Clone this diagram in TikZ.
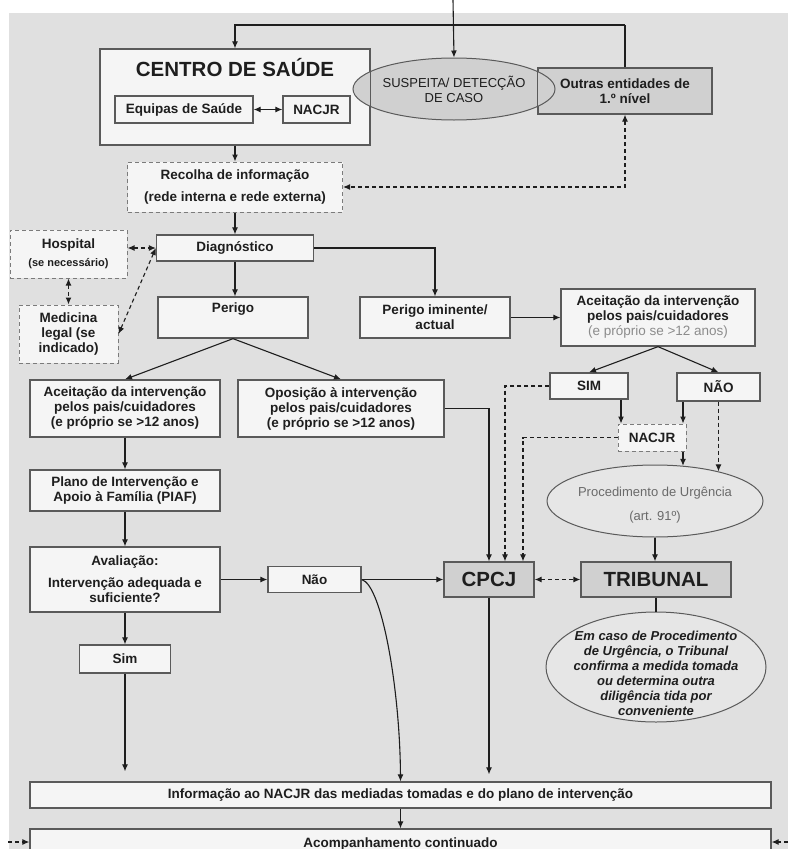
\documentclass[tikz,border=0pt]{standalone}
\usepackage{fontspec}
\setmainfont{Liberation Sans}
\usetikzlibrary{arrows.meta,shapes.geometric}

\definecolor{bggrey}{HTML}{E0E0E0}
\definecolor{boxfill}{HTML}{F5F5F5}
\definecolor{darkfill}{HTML}{D0D0D0}
\definecolor{ovalfill}{HTML}{E6E6E6}
\definecolor{edge}{HTML}{5A5A5A}
\definecolor{ink}{HTML}{1E1E1E}
\definecolor{softink}{HTML}{8C8C8C}
\definecolor{procink}{HTML}{6A6A6A}

\tikzset{
    >={Latex[length=7pt,width=6pt]},
    plainbox/.style={draw=edge, line width=1.3pt, fill=boxfill, inner sep=0pt, align=center,
        text=ink, font=\bfseries\fontsize{13.5}{15}\selectfont},
    dashbox/.style={plainbox, draw=edge!80, line width=1pt, dash pattern=on 4pt off 3pt},
    greybox/.style={plainbox, fill=darkfill},
    oval/.style={ellipse, draw=edge, line width=1pt, inner sep=0pt},
    ovaltxt/.style={align=center, inner sep=0pt, text=ink},
    bigtxt/.style={font=\bfseries\fontsize{20.5}{22}\selectfont},
    rebord/.style={draw=edge, line width=1.3pt},
    conn/.style={draw=ink, line width=1.1pt},
    dconn/.style={conn, dash pattern=on 4pt off 3pt}
}

\begin{document}
\begin{tikzpicture}[x=1pt,y=-1pt]
            \clip (0,0) rectangle (788,849);
            \fill[bggrey] (9,13) rectangle (788,849);

            %%centro de saude
            \node[plainbox, minimum width=270pt, minimum height=96pt] (centro) at (235,97) {};
                \node[bigtxt, text=ink] (centrotit) at (235,68) {CENTRO DE SAÚDE};
                \node[plainbox, minimum width=138pt, minimum height=27pt] (equipas) at (184,109.5) {Equipas de Saúde};
                \node[plainbox, minimum width=67pt, minimum height=27pt] (nacjra) at (316.5,109.5) {NACJR};
            \draw[conn, <->] (equipas) -- (nacjra);

            \node[greybox, minimum width=174pt, minimum height=46pt] (outras) at (625,91) {Outras entidades de\\1.º nível};
            \node[oval, fill=darkfill, minimum width=202pt, minimum height=62pt] (susp) at (454,89) {};
                \node[ovaltxt, font=\fontsize{13}{15}\selectfont] (susptxt) at (susp) {SUSPEITA/ DETECÇÃO\\DE CASO};
            \draw[rebord] (outras.south west) rectangle (outras.north east);
            \draw[rebord] (centro.south west) rectangle (centro.north east);

            %%entrada
            \coordinate (entrada) at (453,0);
            \coordinate (topo) at (625,25);
            \draw[conn, ->] (entrada) -- (susp.north);
            \draw[conn] (outras.north) -- (topo);
            \draw[conn, ->] (topo) -| (centro.north);

            \node[dashbox, minimum width=215pt, minimum height=50pt] (recolha) at (235,187) {Recolha de informação\\[7pt](rede interna e rede externa)};
            \draw[conn, ->] (centro.south) -- (recolha.north);
            \draw[dconn, <->] (outras.south) |- (recolha.east);

            %%diagnostico
            \node[plainbox, minimum width=157pt, minimum height=26pt] (diag) at (235,248) {Diagnóstico};
            \draw[conn, ->] (recolha.south) -- (diag.north);
            \node[dashbox, minimum width=117pt, minimum height=48pt] (hosp) at (68.5,254) {Hospital\\[3pt]{\fontsize{11}{13}\selectfont (se necessário)}};
            \node[dashbox, minimum width=99pt, minimum height=58pt] (med) at (68.5,334) {Medicina\\legal (se\\indicado)};
            \draw[dconn, <->] (hosp.south) -- (med.north);
            \draw[dconn, <->] (hosp.east |- diag.west) -- (diag.west);
            \draw[dconn, <->] (med.east) -- (diag.west);

            \node[plainbox, minimum width=150pt, minimum height=41pt] (perigo) at (233,317.5) {Perigo\\\strut};
            \node[plainbox, minimum width=150pt, minimum height=41pt] (perimin) at (435,317.5) {Perigo iminente/\\actual};
            \draw[conn, ->] (diag.south) -- (diag.south |- perigo.north);
            \draw[conn, ->] (diag.east) -| (perimin.north);

            %%ramo direito
            \node[plainbox, minimum width=194pt, minimum height=57pt] (aceitd) at (658,317.5) {Aceitação da intervenção\\pelos pais/cuidadores\\{\color{softink}\mdseries (e próprio se >12 anos)}};
            \draw[conn, ->] (perimin.east) -- (aceitd.west);
            \node[plainbox, minimum width=78pt, minimum height=26pt] (sim) at (589,386) {SIM};
            \node[plainbox, minimum width=83pt, minimum height=28pt] (nao) at (718.5,387) {NÃO};
            \draw[conn, ->] (aceitd.south) -- (sim.north);
            \draw[conn, ->] (aceitd.south) -- (nao.north);
            \node[dashbox, minimum width=68pt, minimum height=27pt] (nacjrb) at (652,437.5) {NACJR};
            \draw[conn, ->] ([xshift=32pt]sim.south) -- ([xshift=32pt]sim.south |- nacjrb.north);
            \draw[conn, ->] ([xshift=-35.5pt]nao.south) -- ([xshift=-35.5pt]nao.south |- nacjrb.north);

            \node[oval, fill=ovalfill, minimum width=216pt, minimum height=72pt] (proc) at (655,501) {};
                \node[ovaltxt, text=procink, font=\fontsize{13}{15}\selectfont] (proctxt) at (655,505) {Procedimento de Urgência\\[9pt](art. 91º)};
            \draw[conn, ->] ([xshift=31pt]nacjrb.south) -- ([xshift=31pt]nacjrb.south |- proc.51);
            \draw[dconn, ->] (nao.south) -- (nao.south |- proc.25);

            %%cpcj e tribunal
            \node[greybox, bigtxt, minimum width=90pt, minimum height=35pt] (cpcj) at (489,579.5) {CPCJ};
            \node[greybox, bigtxt, minimum width=150pt, minimum height=35pt] (trib) at (656,579.5) {TRIBUNAL};
            \draw[conn, ->] (proc.south) -- (proc.south |- trib.north);
            \draw[dconn, <->] (cpcj.east) -- (trib.west);
            \node[oval, fill=ovalfill, minimum width=220pt, minimum height=110pt] (nota) at (656,667) {};
                \node[ovaltxt, font=\bfseries\itshape\fontsize{13}{15}\selectfont] (notatxt) at (656,673.5) {Em caso de Procedimento\\de Urgência, o Tribunal\\confirma a medida tomada\\ou determina outra\\diligência tida por\\conveniente};
            \draw[conn] (trib.south) -- (nota.north);

            %%perigo
            \node[plainbox, minimum width=190pt, minimum height=57pt] (aceite) at (125,408.5) {Aceitação da intervenção\\pelos pais/cuidadores\\(e próprio se >12 anos)};
            \node[plainbox, minimum width=206pt, minimum height=57pt] (oposicao) at (341,408.5) {Oposição à intervenção\\pelos pais/cuidadores\\(e próprio se >12 anos)};
            \draw[conn, ->] (perigo.south) -- (aceite.north);
            \draw[conn, ->] (perigo.south) -- (oposicao.north);
            \draw[conn, ->] (oposicao.east) -| (cpcj.north);
            \draw[dconn, ->] (sim.west) -| ([xshift=16pt]cpcj.north);
            \draw[dconn, ->] (nacjrb.west) -| ([xshift=34pt]cpcj.north);

            \node[plainbox, minimum width=190pt, minimum height=41pt] (plano) at (125,490.5) {Plano de Intervenção e\\Apoio à Família (PIAF)};
            \node[plainbox, minimum width=190pt, minimum height=65pt] (aval) at (125,579.5) {Avaliação:\\[7pt]Intervenção adequada e\\suficiente?};
            \node[plainbox, minimum width=93pt, minimum height=26pt] (naol) at (314.5,579.5) {Não};
            \node[plainbox, minimum width=91pt, minimum height=28pt] (siml) at (125,659) {Sim};
            \draw[conn, ->] (aceite.south) -- (plano.north);
            \draw[conn, ->] (plano.south) -- (aval.north);
            \draw[conn, ->] (aval.east) -- (naol.west);
            \draw[conn, ->] (naol.east) -- (cpcj.west);
            \draw[conn, ->] (aval.south) -- (siml.north);

            %%fim
            \node[plainbox, minimum width=741pt, minimum height=26pt] (info) at (400.5,795) {Informação ao NACJR das mediadas tomadas e do plano de intervenção};
            \node[plainbox, minimum width=741pt, minimum height=30pt] (acomp) at (400.5,844) {Acompanhamento continuado};
            \draw[conn, ->, shorten >=10pt] (siml.south) -- (siml.south |- info.north);
            \draw[conn, ->, shorten >=7pt] (cpcj.south) -- (cpcj.south |- info.north);
            \draw[conn, ->] (naol.east) .. controls (382,585) and (400,690) .. (info.north);
            \draw[conn, ->] (info.south) -- (acomp.north);
            \coordinate (ladoe) at (8,842);
            \coordinate (ladod) at (788,842);
            \draw[dconn, ->] (ladoe) -- (ladoe -| acomp.west);
            \draw[dconn, ->] (ladod) -- (ladod -| acomp.east);

\end{tikzpicture}
\end{document}
